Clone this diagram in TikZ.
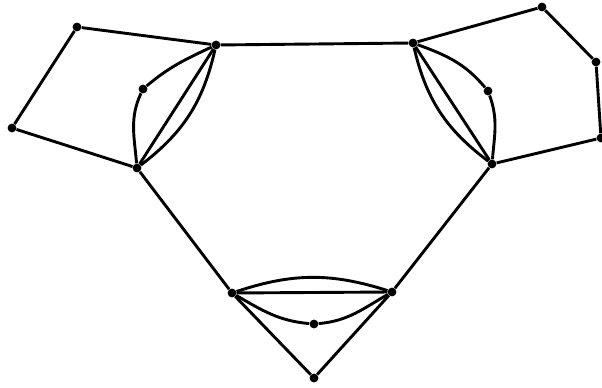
\documentclass[tikz,border=0pt]{standalone}
\usepackage{tikz}
\tikzset{
  vtx/.style={circle, fill=black, inner sep=0pt, minimum size=5pt},
  edge/.style={line width=1.65pt, draw=black}
}

\begin{document}
\begin{tikzpicture}[x=0.02cm, y=-0.02cm]
\useasboundingbox (0,0) rectangle (602,388);

% outer vertices
\node[vtx] (p1) at (77,27) {};
\node[vtx] (p2) at (12,128) {};
\node[vtx] (t1) at (216,45) {};
\node[vtx] (b1) at (137,168) {};
\node[vtx] (m1) at (143,89) {};

\node[vtx] (t2) at (413,43) {};
\node[vtx] (b2) at (492,164) {};
\node[vtx] (m2) at (488,91) {};
\node[vtx] (q1) at (542,7) {};
\node[vtx] (q2) at (596,62) {};
\node[vtx] (q3) at (601,138) {};

\node[vtx] (l) at (232,293) {};
\node[vtx] (r) at (392,292) {};
\node[vtx] (m3) at (314,324) {};
\node[vtx] (bot) at (314,378) {};

% quadrilateral on the left
\draw[edge] (t1) -- (p1) -- (p2) -- (b1);
% pentagon on the right
\draw[edge] (t2) -- (q1) -- (q2) -- (q3) -- (b2);
% triangle frame
\draw[edge] (t1) -- (t2);
\draw[edge] (b1) -- (l);
\draw[edge] (b2) -- (r);
\draw[edge] (l) -- (bot) -- (r);

% left multi-edge
\draw[edge] (t1) -- (b1);
\draw[edge] (t1) to[bend left=20] (b1);
\draw[edge] (b1) to[out=95, in=245] (m1);
\draw[edge] (m1) to[out=40, in=205] (t1);

% right multi-edge
\draw[edge] (t2) -- (b2);
\draw[edge] (t2) to[bend right=20] (b2);
\draw[edge] (t2) to[out=-20, in=130] (m2);
\draw[edge] (m2) to[out=-70, in=85] (b2);

% bottom multi-edge
\draw[edge] (l) -- (r);
\draw[edge] (l) to[bend left=18] (r);
\draw[edge] (l) to[out=-30, in=175] (m3);
\draw[edge] (m3) to[out=5, in=210] (r);
\end{tikzpicture}
\end{document}
